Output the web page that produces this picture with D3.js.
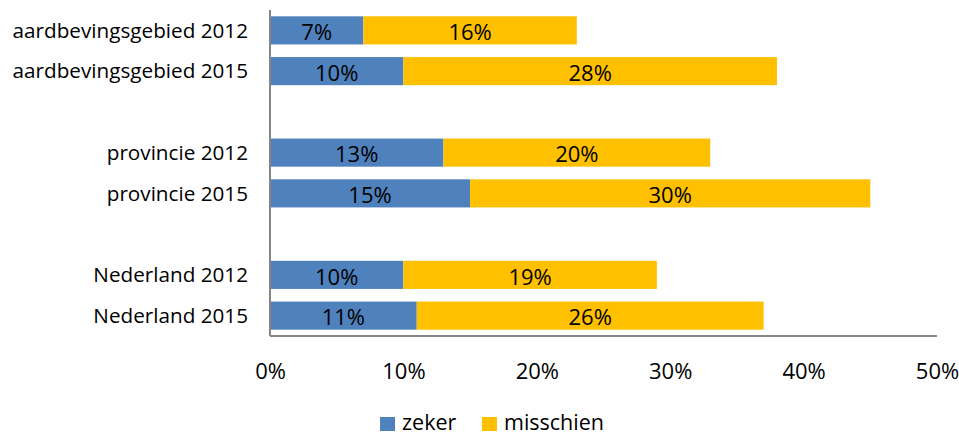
<!DOCTYPE html>
<html><head><meta charset="utf-8">
<script src="https://cdn.jsdelivr.net/npm/d3@7"></script>
<style>body{margin:0;background:#fff}svg{display:block}text{font-family:"Open Sans",sans-serif}</style>
</head><body><svg id="c" width="959" height="436"></svg>
<script>
const categories = ["aardbevingsgebied 2012","aardbevingsgebied 2015","provincie 2012","provincie 2015","Nederland 2012","Nederland 2015"];
const zeker = [7,10,13,15,10,11];
const misschien = [16,28,20,30,19,26];
const tickValues = [0,10,20,30,40,50];
const seriesNames = ["zeker","misschien"];
const colors = ["#4F81BD","#FFC000"];

const svg = d3.select("#c");
// slots with spacers between groups
const slots = [categories[0],categories[1],"_g1",categories[2],categories[3],"_g2",categories[4],categories[5]];
const x = d3.scaleLinear().domain([0,50]).range([270,937]);
const y = d3.scaleBand().domain(slots).range([10,336]).paddingInner(0.31).paddingOuter(0.155);

const rows = categories.map((c,i)=>({cat:c, zeker:zeker[i], misschien:misschien[i]}));
const stack = d3.stack().keys(seriesNames)(rows);

stack.forEach((s,si)=>{
  svg.append("g").selectAll("rect").data(s).join("rect")
    .attr("x",d=>x(d[0])).attr("width",d=>x(d[1])-x(d[0]))
    .attr("y",d=>y(d.data.cat)).attr("height",y.bandwidth())
    .attr("fill",colors[si]);
  svg.append("g").selectAll("text").data(s).join("text")
    .attr("x",d=>(x(d[0])+x(d[1]))/2).attr("y",d=>y(d.data.cat)+y.bandwidth()/2)
    .attr("dy","0.44em").attr("text-anchor","middle").attr("font-size",22).attr("fill","#000")
    .text(d=>(d[1]-d[0])+"%");
});

// axes
const yAxis = d3.axisLeft(y).tickSize(0).tickPadding(22).tickFormat(d=>d.startsWith("_")?"":d);
const gy = svg.append("g").attr("transform","translate(270,0)").call(yAxis);
gy.select(".domain").attr("stroke","#868686").attr("stroke-width",2).attr("d","M0,10V336");
gy.selectAll("text").attr("font-size",20.7).attr("fill","#000").attr("font-family","Open Sans").attr("dy","0.35em");

const xAxis = d3.axisBottom(x).tickValues(tickValues).tickSize(0).tickFormat(d=>d+"%");
const gx = svg.append("g").attr("transform","translate(0,336)").call(xAxis);
gx.select(".domain").attr("stroke","#868686").attr("stroke-width",2).attr("d","M270,0H937");
gx.selectAll("text").attr("font-size",22).attr("fill","#000").attr("font-family","Open Sans").attr("y",43).attr("dy",0);

// legend
const lg = svg.append("g");
const lx = [380,482];
seriesNames.forEach((n,i)=>{
  lg.append("rect").attr("x",lx[i]).attr("y",417).attr("width",15).attr("height",14).attr("fill",colors[i]);
  lg.append("text").attr("x",lx[i]+22).attr("y",430).attr("font-size",21.5).attr("fill","#000").text(n);
});
</script></body></html>
